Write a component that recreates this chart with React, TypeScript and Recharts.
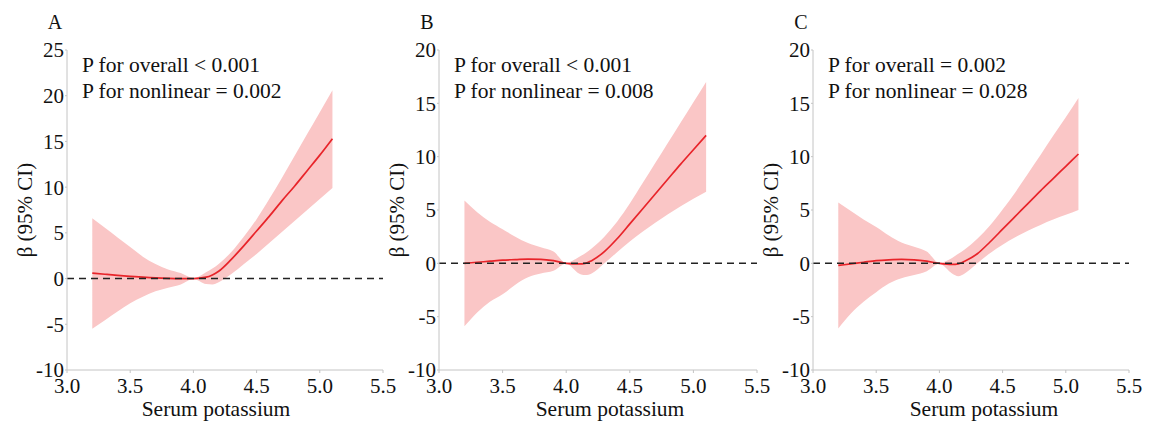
import { ComposedChart, Area, Line, XAxis, YAxis, ReferenceLine } from 'recharts'

const potassium = [3.2, 3.3, 3.4, 3.5, 3.6, 3.7, 3.8, 3.9, 4.0, 4.1, 4.15, 4.2, 4.3, 4.4, 4.5, 4.6, 4.7, 4.8, 4.9, 5.0, 5.1]

const fitA = [0.6, 0.47, 0.35, 0.25, 0.15, 0.07, 0.02, 0.0, 0.0, 0.15, 0.4, 0.8, 2.1, 3.6, 5.2, 6.8, 8.5, 10.1, 11.8, 13.5, 15.3]
const lowerA = [-5.5, -4.55, -3.6, -2.7, -2.0, -1.4, -1.0, -0.65, -0.05, -0.6, -0.65, -0.4, 0.5, 1.6, 2.7, 3.9, 5.1, 6.3, 7.5, 8.7, 9.9]
const upperA = [6.6, 5.55, 4.5, 3.45, 2.4, 1.6, 1.0, 0.6, 0.05, 0.7, 1.1, 1.6, 2.9, 4.6, 6.5, 8.7, 11.0, 13.4, 15.8, 18.2, 20.6]

const fitB = [0.0, 0.1, 0.2, 0.3, 0.35, 0.4, 0.38, 0.25, 0.0, -0.05, 0.0, 0.25, 1.1, 2.3, 3.7, 5.1, 6.5, 7.9, 9.3, 10.65, 12.0]
const lowerB = [-5.9, -4.6, -3.6, -2.9, -2.0, -1.3, -0.95, -0.7, -0.05, -0.95, -1.1, -0.95, 0.0, 1.05, 2.05, 2.95, 3.8, 4.6, 5.35, 6.05, 6.7]
const upperB = [5.9, 4.8, 3.9, 3.2, 2.5, 1.9, 1.5, 1.1, 0.05, 0.6, 0.95, 1.4, 2.5, 3.9, 5.6, 7.5, 9.4, 11.3, 13.2, 15.1, 17.0]

const fitC = [-0.2, -0.05, 0.1, 0.25, 0.33, 0.37, 0.33, 0.2, 0.0, -0.1, -0.05, 0.2, 0.9, 2.0, 3.2, 4.4, 5.6, 6.8, 7.95, 9.1, 10.25]
const lowerC = [-6.1, -4.7, -3.6, -2.7, -1.9, -1.4, -1.1, -0.75, -0.05, -0.95, -1.2, -0.95, 0.0, 0.95, 1.75, 2.45, 3.05, 3.6, 4.1, 4.55, 5.0]
const upperC = [5.7, 4.9, 4.1, 3.4, 2.6, 1.95, 1.55, 1.1, 0.05, 0.5, 0.9, 1.3, 2.3, 3.55, 5.05, 6.65, 8.4, 10.15, 11.95, 13.7, 15.5]

const xTicks = [3.0, 3.5, 4.0, 4.5, 5.0, 5.5]
const yTicksA = [-10, -5, 0, 5, 10, 15, 20, 25]
const yTicksBC = [-10, -5, 0, 5, 10, 15, 20]

const panelLetters = ['A', 'B', 'C']
const overallP = ['P for overall < 0.001', 'P for overall < 0.001', 'P for overall = 0.002']
const nonlinearP = ['P for nonlinear = 0.002', 'P for nonlinear = 0.008', 'P for nonlinear = 0.028']

const xTitle = 'Serum potassium'
const yTitle = 'β (95% CI)'

const FONT = 'Liberation Serif'
const AXIS = '#c4c4c4'
const BAND = '#fac6c6'
const RED = '#e8242a'
const INK = '#111'

// y-axis line x, right plot edge and x-title centre of each panel, in page px
const layout = [
  { axisX: 67, axisRight: 383, titleX: 216 },
  { axisX: 439, axisRight: 757, titleX: 610 },
  { axisX: 813, axisRight: 1129, titleX: 984 },
]

const series = [
  { fit: fitA, lower: lowerA, upper: upperA, yTicks: yTicksA },
  { fit: fitB, lower: lowerB, upper: upperB, yTicks: yTicksBC },
  { fit: fitC, lower: lowerC, upper: upperC, yTicks: yTicksBC },
]

const H = 425
const TOP = 50
const BOTTOM = 370
const PAD_LEFT = 67
const PAD_RIGHT = 20
const Y_AXIS_W = 40
const X_AXIS_H = 30

function Panel({ i }: { i: number }) {
  const box = layout[i]
  const s = series[i]
  const data = potassium.map((x, k) => ({ x, fit: s.fit[k], band: [s.lower[k], s.upper[k]] }))
  const left = box.axisX - PAD_LEFT
  const width = box.axisRight - box.axisX + PAD_LEFT + PAD_RIGHT
  const ax = PAD_LEFT
  const tickStyle = { fontSize: 21, fill: INK, fontFamily: FONT }
  const midY = (TOP + BOTTOM) / 2

  return (
    <div style={{ position: 'absolute', left, top: 0 }}>
      <ComposedChart
        width={width}
        height={H}
        data={data}
        margin={{ top: TOP, left: ax - Y_AXIS_W, right: PAD_RIGHT, bottom: H - BOTTOM - X_AXIS_H }}
      >
        <XAxis
          dataKey="x"
          type="number"
          domain={[3, 5.5]}
          ticks={xTicks}
          tickFormatter={(v: number) => v.toFixed(1)}
          height={X_AXIS_H}
          tick={tickStyle}
          tickSize={3}
          tickMargin={5}
          axisLine={{ stroke: AXIS }}
          tickLine={{ stroke: AXIS }}
        />
        <YAxis
          type="number"
          domain={[s.yTicks[0], s.yTicks[s.yTicks.length - 1]]}
          ticks={s.yTicks}
          width={Y_AXIS_W}
          tick={tickStyle}
          tickSize={2}
          tickMargin={1}
          axisLine={{ stroke: AXIS }}
          tickLine={{ stroke: AXIS }}
        />
        <Area
          type="monotone"
          dataKey="band"
          stroke="none"
          fill={BAND}
          fillOpacity={1}
          isAnimationActive={false}
        />
        <Line
          type="monotone"
          dataKey="fit"
          stroke={RED}
          strokeWidth={1.7}
          dot={false}
          isAnimationActive={false}
        />
        <ReferenceLine y={0} stroke="#222" strokeWidth={1.5} strokeDasharray="7 5" />
        <text x={ax - 12} y={29} textAnchor="middle" fontSize={20} fontFamily={FONT} fill={INK}>
          {panelLetters[i]}
        </text>
        <text x={ax + 15} y={72} fontSize={21.5} fontFamily={FONT} fill={INK}>
          {overallP[i]}
        </text>
        <text x={ax + 15} y={98} fontSize={21.5} fontFamily={FONT} fill={INK}>
          {nonlinearP[i]}
        </text>
        <text
          x={ax - 42}
          y={midY}
          transform={`rotate(-90 ${ax - 42} ${midY})`}
          textAnchor="middle"
          dominantBaseline="central"
          fontSize={21}
          fontFamily={FONT}
          fill={INK}
        >
          {yTitle}
        </text>
        <text x={box.titleX - left} y={416} textAnchor="middle" fontSize={21.5} fontFamily={FONT} fill={INK}>
          {xTitle}
        </text>
      </ComposedChart>
    </div>
  )
}

export default function App() {
  return (
    <div style={{ position: 'absolute', left: 0, top: 0, width: 1150, height: H, background: '#fff' }}>
      {panelLetters.map((_, i) => (
        <Panel key={i} i={i} />
      ))}
    </div>
  )
}
